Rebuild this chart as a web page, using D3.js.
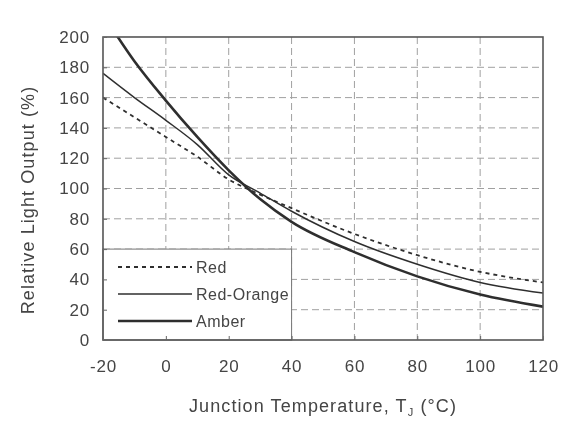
<!DOCTYPE html>
<html>
<head>
<meta charset="utf-8">
<script src="https://cdn.jsdelivr.net/npm/d3@7"></script>
<style>
  body { margin: 0; background: #fff; }
  svg { font-family: "Liberation Sans", Arial, sans-serif; }
</style>
</head>
<body>
<div id="paper"></div>
<script>
// values
const temps = [-20, -10, 0, 10, 20, 30, 40, 60, 80, 100, 120];
const red = [160, 147, 134, 121, 106, 96, 87, 70, 56, 45, 38];
const redOrange = [176, 160, 145, 129, 109, 97, 85, 65, 50, 38, 31];
const amber = [215, 184, 158, 134, 112, 93, 78, 58, 42, 30, 22];

const xTicks = [-20, 0, 20, 40, 60, 80, 100, 120];
const yTicks = [0, 20, 40, 60, 80, 100, 120, 140, 160, 180, 200];
const seriesNames = ["Red", "Red-Orange", "Amber"];

const width = 573, height = 428;
const plotL = 103, plotR = 543, plotT = 37, plotB = 340;

const x = d3.scaleLinear([-20, 120], [plotL, plotR]);
const y = d3.scaleLinear([0, 200], [plotB, plotT]);

const svg = d3.select("#paper").append("svg")
  .attr("width", width)
  .attr("height", height);

// slight softening, like the scan
const defs = svg.append("defs");
defs.append("filter").attr("id", "soft")
  .append("feGaussianBlur").attr("stdDeviation", 0.45);
defs.append("clipPath").attr("id", "plotclip")
  .append("rect")
  .attr("x", plotL).attr("y", plotT)
  .attr("width", plotR - plotL).attr("height", plotB - plotT);

const g = svg.append("g").attr("filter", "url(#soft)");

// grid
g.append("g")
  .attr("stroke", "#a0a0a0")
  .attr("stroke-width", 1)
  .attr("stroke-dasharray", "7,4")
  .selectAll("line")
  .data(xTicks.slice(1, -1))
  .join("line")
  .attr("x1", d => x(d)).attr("x2", d => x(d))
  .attr("y1", plotT).attr("y2", plotB);

g.append("g")
  .attr("stroke", "#a0a0a0")
  .attr("stroke-width", 1)
  .attr("stroke-dasharray", "7,4")
  .selectAll("line")
  .data(yTicks.slice(1, -1))
  .join("line")
  .attr("x1", plotL).attr("x2", plotR)
  .attr("y1", d => y(d)).attr("y2", d => y(d));

// curves
const series = [
  {name: "Red", values: red, width: 1.8, dash: "4,4"},
  {name: "Red-Orange", values: redOrange, width: 1.5, dash: null},
  {name: "Amber", values: amber, width: 2.6, dash: null}
];

const line = d3.line()
  .x((d, i) => x(temps[i]))
  .y(d => y(d))
  .curve(d3.curveMonotoneX);

g.append("g")
  .attr("clip-path", "url(#plotclip)")
  .attr("fill", "none")
  .selectAll("path")
  .data(series)
  .join("path")
  .attr("stroke", "#2f2f2f")
  .attr("stroke-width", d => d.width)
  .attr("stroke-dasharray", d => d.dash)
  .attr("d", d => line(d.values));

// legend box sits on the grid from -20..40 and 0..60
const lg = g.append("g");
lg.append("rect")
  .attr("x", x(-20)).attr("y", y(60))
  .attr("width", x(40) - x(-20)).attr("height", y(0) - y(60))
  .attr("fill", "#fff")
  .attr("stroke", "#777")
  .attr("stroke-width", 1);

const legendRows = lg.selectAll("g.row")
  .data(series)
  .join("g")
  .attr("class", "row")
  .attr("transform", (d, i) => `translate(0,${[267, 294, 321][i]})`);

legendRows.append("line")
  .attr("x1", 118).attr("x2", 192)
  .attr("stroke", "#2f2f2f")
  .attr("stroke-width", d => d.width)
  .attr("stroke-dasharray", d => d.dash);

legendRows.append("text")
  .attr("x", 196)
  .attr("dy", "0.35em")
  .attr("fill", "#444")
  .attr("font-size", 16)
  .attr("letter-spacing", 0.5)
  .text((d, i) => seriesNames[i]);

// frame
g.append("rect")
  .attr("x", plotL).attr("y", plotT)
  .attr("width", plotR - plotL).attr("height", plotB - plotT)
  .attr("fill", "none")
  .attr("stroke", "#555")
  .attr("stroke-width", 1.6);

// axes
const yAxis = g.append("g")
  .attr("transform", `translate(${plotL},0)`)
  .call(d3.axisLeft(y).tickValues(yTicks).tickFormat(d => String(d))
    .tickSizeInner(-4).tickSizeOuter(0).tickPadding(13));
const xAxis = g.append("g")
  .attr("transform", `translate(0,${plotB})`)
  .call(d3.axisBottom(x).tickValues(xTicks).tickFormat(d => String(d))
    .tickSizeInner(-4).tickSizeOuter(0).tickPadding(20));

[yAxis, xAxis].forEach(a => {
  a.select(".domain").remove();
  a.selectAll("line").attr("stroke", "#666");
  a.selectAll("text")
    .attr("fill", "#444")
    .attr("font-size", 17)
    .attr("letter-spacing", 0.8)
    .attr("font-family", "'Liberation Sans', Arial, sans-serif");
});

// titles
g.append("text")
  .attr("transform", "translate(34,200) rotate(-90)")
  .attr("text-anchor", "middle")
  .attr("fill", "#444")
  .attr("font-size", 18)
  .attr("letter-spacing", 1.1)
  .text("Relative Light Output (%)");

const xt = g.append("text")
  .attr("x", 323).attr("y", 412)
  .attr("text-anchor", "middle")
  .attr("fill", "#444")
  .attr("font-size", 18)
  .attr("letter-spacing", 1.1);
xt.append("tspan").text("Junction Temperature, T");
xt.append("tspan").attr("font-size", 11).attr("dy", 4).text("J");
xt.append("tspan").attr("dy", -4).text(" (°C)");
</script>
</body>
</html>
